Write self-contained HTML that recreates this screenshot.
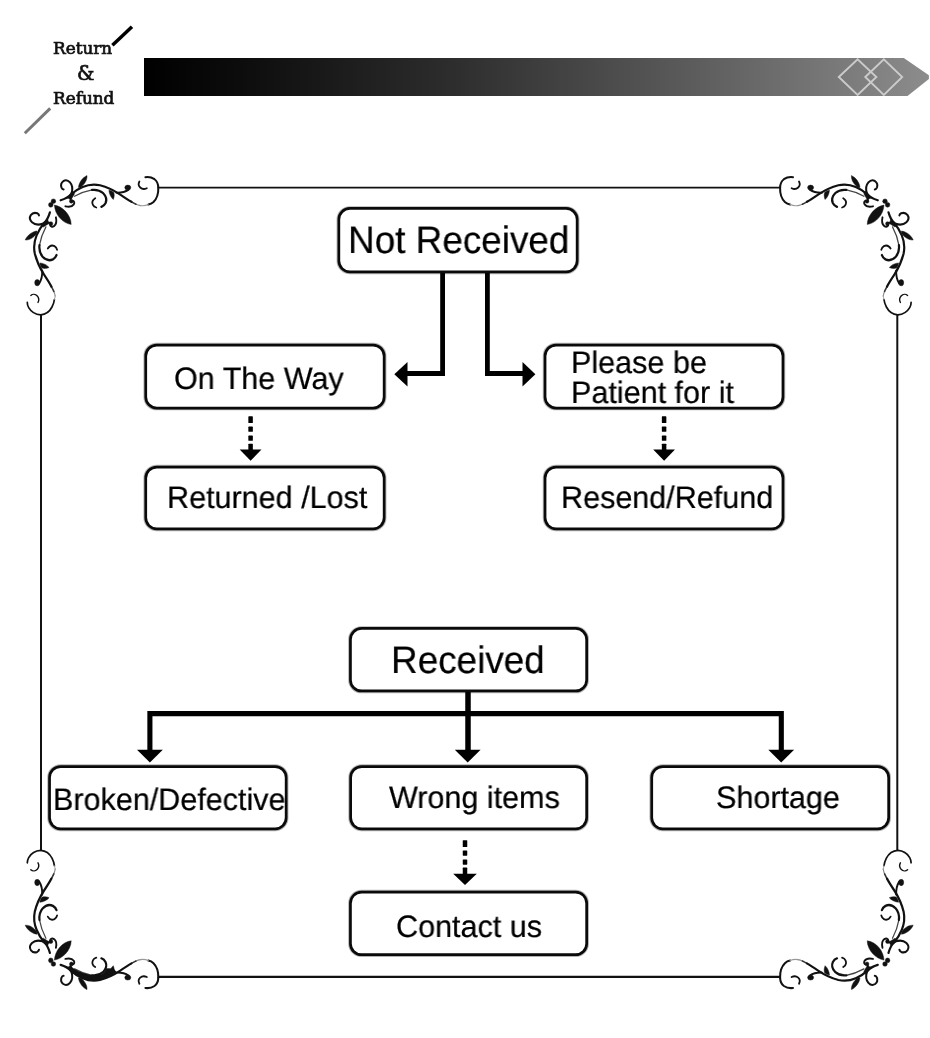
<!DOCTYPE html>
<html lang="en"><head><meta charset="utf-8"><title>Return &amp; Refund</title>
<style>
html,body{margin:0;padding:0;background:#fff}
body{width:930px;height:1038px;position:relative;overflow:hidden;font-family:"Liberation Sans",sans-serif;color:#000}
.t{position:absolute;white-space:nowrap;line-height:1;color:#000;transform-origin:0 50%;will-change:transform;text-rendering:geometricPrecision;-webkit-text-stroke:0.22px #000}
.t.big{font-size:38.3px;transform:scaleX(0.963)}
.t.n{font-size:31px;transform:scaleX(0.985)}
.logo{position:absolute;font-family:"DejaVu Serif","Liberation Serif",serif;font-size:16.85px;line-height:1;white-space:nowrap;color:#111;-webkit-text-stroke:0.7px #111;will-change:transform}
</style></head>
<body>
<svg width="930" height="1038" viewBox="0 0 930 1038" style="position:absolute;left:0;top:0">
<defs><linearGradient id="barg" x1="0" x2="1" y1="0" y2="0">
<stop offset="0" stop-color="#000"/><stop offset="0.12" stop-color="#0c0c0c"/><stop offset="0.4" stop-color="#2e2e2e"/><stop offset="0.7" stop-color="#5c5c5c"/><stop offset="1" stop-color="#8c8c8c"/></linearGradient></defs>
<polygon points="144,58 903.8,58 928.9,75.2 928.9,79 907.5,96 144,96" fill="url(#barg)"/>
<polygon points="838.8,77 857.6,59.2 876.4,77 857.6,95" fill="none" stroke="#cbcbcb" stroke-width="1.9"/>
<polygon points="865.3,77 883.8,59.2 902.2,77 883.8,95" fill="none" stroke="#cbcbcb" stroke-width="1.9"/>
<line x1="112.4" y1="45.2" x2="132" y2="26.8" stroke="#000" stroke-width="3.5"/>
<line x1="24.8" y1="133.2" x2="50.2" y2="108.4" stroke="#777" stroke-width="3"/>

<line x1="158.1" y1="187.7" x2="780.3" y2="187.7" stroke="#111" stroke-width="1.8"/>
<line x1="158.1" y1="976.9" x2="780.3" y2="976.9" stroke="#111" stroke-width="2.3"/>
<line x1="41" y1="314.6" x2="41" y2="850.6" stroke="#111" stroke-width="2"/>
<line x1="897.3" y1="314.6" x2="897.3" y2="850.6" stroke="#111" stroke-width="2"/>

<g><g>
<path d="M140.5,205.6 C139,205.3 137.6,204.9 136,204.2" fill="none" stroke="#888" stroke-width="1.12" stroke-linecap="round"/>
<path d="M136,204.2 C134.5,203.5 133,202.7 131.5,201.8" fill="none" stroke="#333" stroke-width="1.57" stroke-linecap="round"/>
<path d="M131.5,201.8 C127.7,199.7 123.8,197 119.9,194.3 C114,190.4 107,187 100,185.2 C94,183.9 88,184.6 82.6,187 C78,189 74,191.6 71.2,194.3 C69,196.6 66,198.7 60.6,200.3" fill="none" stroke="#111" stroke-width="2.18" stroke-linecap="round"/>
<path d="M74.5,196.3 C80,193.2 86,191 92,189.9" fill="none" stroke="#444" stroke-width="1.23" stroke-linecap="round"/>
<path d="M92,189.9 C96,189.4 100,190.3 103,193 C106,196 107,200 105.5,203.3 C104.5,205.2 103,206.3 101.4,206.9" fill="none" stroke="#111" stroke-width="2.24" stroke-linecap="round"/>
<path d="M95.2,198.2 C92.6,199.8 91.8,202.6 92.9,204.9 C93.6,206.3 94.8,207.1 96.3,207.5" fill="none" stroke="#111" stroke-width="1.79" stroke-linecap="round"/>
<path d="M116.3,192.6 C120.5,192.8 125,192 128.6,189.6" fill="none" stroke="#111" stroke-width="1.90" stroke-linecap="round"/>
<ellipse cx="127.8" cy="187.6" rx="3" ry="2.5" fill="#111" stroke="#111" stroke-width="0.45" stroke-linejoin="round"/>
<path d="M108.9,190.2 C110.5,190.4 112.6,191.2 113.8,192.4 C114.6,194.6 114.2,197.4 113.3,199.5 C111,197.6 109.2,194 108.9,190.2 Z" fill="#111" stroke="#111" stroke-width="0.45" stroke-linejoin="round"/>
<path d="M78.4,187.4 C79,182.5 82.5,177.6 87,175.6 C87.3,180 84.5,184.6 80.6,187.2 Z" fill="#111" stroke="#111" stroke-width="0.45" stroke-linejoin="round"/>
<path d="M71.6,193 C72.8,189 72.3,185 70,182.4 C68,180.2 65.2,179.9 63.3,181.2 C61.3,182.7 60.7,185.4 61.5,187.6 C62,188.7 62.8,189.3 63.6,189.4" fill="none" stroke="#111" stroke-width="2.02" stroke-linecap="round"/>
<path d="M67,197.9 L72.4,190.8 L74.6,193.8 L71.2,199.4 Z" fill="#111" stroke="#111" stroke-width="0.45" stroke-linejoin="round"/>
<path d="M70.6,197.8 C70.3,199.2 70.5,200.4 71.2,201.4" fill="none" stroke="#111" stroke-width="1.79"/>
<circle cx="71.4" cy="201.3" r="1.9" fill="#111" stroke="#111" stroke-width="0.45" stroke-linejoin="round"/>
<path d="M72.6,200.6 C74.2,201 74.8,202.6 73.8,204.4 C72.4,206.4 69,207.2 65.4,206.3" fill="none" stroke="#111" stroke-width="1.90" stroke-linecap="round"/>
<circle cx="53.4" cy="201.2" r="2.3" fill="#111" stroke="#111" stroke-width="0.45" stroke-linejoin="round"/>

<path d="M158.3,187.6 C158.2,184 157,181 154.5,179.2 C152,177.5 148.5,176.8 145.4,177.2" fill="none" stroke="#111" stroke-width="2.02" stroke-linecap="round"/>
<path d="M139.4,181.5 C138.3,183.5 138.6,186 140.2,187.5 C141.8,189 144.5,189.3 146.8,188.2" fill="none" stroke="#111" stroke-width="1.79" stroke-linecap="round"/>
<path d="M158.3,187.6 C158.5,193 157,198.5 153.5,202 C151.8,203.6 150,204.3 148.3,204.6" fill="none" stroke="#111" stroke-width="2.02" stroke-linecap="round"/>
<path d="M148.3,204.6 C146,205.6 143,206 140.5,205.6" fill="none" stroke="#999" stroke-width="1.12" stroke-linecap="round"/>
<path d="M54.4,205.1 C62,206.2 71,214.5 71.2,224.4 C62,223.4 54.8,214 54.4,205.1 Z" fill="#111" stroke="#111" stroke-width="0.45" stroke-linejoin="round"/><g transform="matrix(0,1.047,1,0,-150.4,148.9)">
<path d="M140.5,205.6 C139,205.3 137.6,204.9 136,204.2" fill="none" stroke="#888" stroke-width="1.12" stroke-linecap="round"/>
<path d="M136,204.2 C134.5,203.5 133,202.7 131.5,201.8" fill="none" stroke="#333" stroke-width="1.57" stroke-linecap="round"/>
<path d="M131.5,201.8 C127.7,199.7 123.8,197 119.9,194.3 C114,190.4 107,187 100,185.2 C94,183.9 88,184.6 82.6,187 C78,189 74,191.6 71.2,194.3 C69,196.6 66,198.7 60.6,200.3" fill="none" stroke="#111" stroke-width="2.18" stroke-linecap="round"/>
<path d="M74.5,196.3 C80,193.2 86,191 92,189.9" fill="none" stroke="#444" stroke-width="1.23" stroke-linecap="round"/>
<path d="M92,189.9 C96,189.4 100,190.3 103,193 C106,196 107,200 105.5,203.3 C104.5,205.2 103,206.3 101.4,206.9" fill="none" stroke="#111" stroke-width="2.24" stroke-linecap="round"/>
<path d="M95.2,198.2 C92.6,199.8 91.8,202.6 92.9,204.9 C93.6,206.3 94.8,207.1 96.3,207.5" fill="none" stroke="#111" stroke-width="1.79" stroke-linecap="round"/>
<path d="M116.3,192.6 C120.5,192.8 125,192 128.6,189.6" fill="none" stroke="#111" stroke-width="1.90" stroke-linecap="round"/>
<ellipse cx="127.8" cy="187.6" rx="3" ry="2.5" fill="#111" stroke="#111" stroke-width="0.45" stroke-linejoin="round"/>
<path d="M108.9,190.2 C110.5,190.4 112.6,191.2 113.8,192.4 C114.6,194.6 114.2,197.4 113.3,199.5 C111,197.6 109.2,194 108.9,190.2 Z" fill="#111" stroke="#111" stroke-width="0.45" stroke-linejoin="round"/>
<path d="M78.4,187.4 C79,182.5 82.5,177.6 87,175.6 C87.3,180 84.5,184.6 80.6,187.2 Z" fill="#111" stroke="#111" stroke-width="0.45" stroke-linejoin="round"/>
<path d="M71.6,193 C72.8,189 72.3,185 70,182.4 C68,180.2 65.2,179.9 63.3,181.2 C61.3,182.7 60.7,185.4 61.5,187.6 C62,188.7 62.8,189.3 63.6,189.4" fill="none" stroke="#111" stroke-width="2.02" stroke-linecap="round"/>
<path d="M67,197.9 L72.4,190.8 L74.6,193.8 L71.2,199.4 Z" fill="#111" stroke="#111" stroke-width="0.45" stroke-linejoin="round"/>
<path d="M70.6,197.8 C70.3,199.2 70.5,200.4 71.2,201.4" fill="none" stroke="#111" stroke-width="1.79"/>
<circle cx="71.4" cy="201.3" r="1.9" fill="#111" stroke="#111" stroke-width="0.45" stroke-linejoin="round"/>
<path d="M72.6,200.6 C74.2,201 74.8,202.6 73.8,204.4 C72.4,206.4 69,207.2 65.4,206.3" fill="none" stroke="#111" stroke-width="1.90" stroke-linecap="round"/>
<circle cx="53.4" cy="201.2" r="2.3" fill="#111" stroke="#111" stroke-width="0.45" stroke-linejoin="round"/>
</g>
<path d="M40.7,314.8 C36,314.5 31,311.6 28.7,307.6 C27.7,305.8 27.2,304 27.3,302.4" fill="none" stroke="#111" stroke-width="1.7" stroke-linecap="round"/>
<path d="M30.8,295.4 C32.6,293.8 35.5,294 37.3,296 C38.8,297.8 39.2,300.3 38,302.4" fill="none" stroke="#111" stroke-width="1.4" stroke-linecap="round"/>
<path d="M40.7,314.8 C45,314.5 49.6,311.6 52,307 C53.4,304.2 54.2,301.6 54.4,299.5" fill="none" stroke="#111" stroke-width="1.7" stroke-linecap="round"/>
<path d="M54.4,299.5 C54.8,298 55.1,297 55.2,296" fill="none" stroke="#999" stroke-width="1" stroke-linecap="round"/>
</g></g>
<g transform="matrix(-1,0,0,1,938.4,0)"><g>
<path d="M140.5,205.6 C139,205.3 137.6,204.9 136,204.2" fill="none" stroke="#888" stroke-width="1.12" stroke-linecap="round"/>
<path d="M136,204.2 C134.5,203.5 133,202.7 131.5,201.8" fill="none" stroke="#333" stroke-width="1.57" stroke-linecap="round"/>
<path d="M131.5,201.8 C127.7,199.7 123.8,197 119.9,194.3 C114,190.4 107,187 100,185.2 C94,183.9 88,184.6 82.6,187 C78,189 74,191.6 71.2,194.3 C69,196.6 66,198.7 60.6,200.3" fill="none" stroke="#111" stroke-width="2.18" stroke-linecap="round"/>
<path d="M74.5,196.3 C80,193.2 86,191 92,189.9" fill="none" stroke="#444" stroke-width="1.23" stroke-linecap="round"/>
<path d="M92,189.9 C96,189.4 100,190.3 103,193 C106,196 107,200 105.5,203.3 C104.5,205.2 103,206.3 101.4,206.9" fill="none" stroke="#111" stroke-width="2.24" stroke-linecap="round"/>
<path d="M95.2,198.2 C92.6,199.8 91.8,202.6 92.9,204.9 C93.6,206.3 94.8,207.1 96.3,207.5" fill="none" stroke="#111" stroke-width="1.79" stroke-linecap="round"/>
<path d="M116.3,192.6 C120.5,192.8 125,192 128.6,189.6" fill="none" stroke="#111" stroke-width="1.90" stroke-linecap="round"/>
<ellipse cx="127.8" cy="187.6" rx="3" ry="2.5" fill="#111" stroke="#111" stroke-width="0.45" stroke-linejoin="round"/>
<path d="M108.9,190.2 C110.5,190.4 112.6,191.2 113.8,192.4 C114.6,194.6 114.2,197.4 113.3,199.5 C111,197.6 109.2,194 108.9,190.2 Z" fill="#111" stroke="#111" stroke-width="0.45" stroke-linejoin="round"/>
<path d="M78.4,187.4 C79,182.5 82.5,177.6 87,175.6 C87.3,180 84.5,184.6 80.6,187.2 Z" fill="#111" stroke="#111" stroke-width="0.45" stroke-linejoin="round"/>
<path d="M71.6,193 C72.8,189 72.3,185 70,182.4 C68,180.2 65.2,179.9 63.3,181.2 C61.3,182.7 60.7,185.4 61.5,187.6 C62,188.7 62.8,189.3 63.6,189.4" fill="none" stroke="#111" stroke-width="2.02" stroke-linecap="round"/>
<path d="M67,197.9 L72.4,190.8 L74.6,193.8 L71.2,199.4 Z" fill="#111" stroke="#111" stroke-width="0.45" stroke-linejoin="round"/>
<path d="M70.6,197.8 C70.3,199.2 70.5,200.4 71.2,201.4" fill="none" stroke="#111" stroke-width="1.79"/>
<circle cx="71.4" cy="201.3" r="1.9" fill="#111" stroke="#111" stroke-width="0.45" stroke-linejoin="round"/>
<path d="M72.6,200.6 C74.2,201 74.8,202.6 73.8,204.4 C72.4,206.4 69,207.2 65.4,206.3" fill="none" stroke="#111" stroke-width="1.90" stroke-linecap="round"/>
<circle cx="53.4" cy="201.2" r="2.3" fill="#111" stroke="#111" stroke-width="0.45" stroke-linejoin="round"/>

<path d="M158.3,187.6 C158.2,184 157,181 154.5,179.2 C152,177.5 148.5,176.8 145.4,177.2" fill="none" stroke="#111" stroke-width="2.02" stroke-linecap="round"/>
<path d="M139.4,181.5 C138.3,183.5 138.6,186 140.2,187.5 C141.8,189 144.5,189.3 146.8,188.2" fill="none" stroke="#111" stroke-width="1.79" stroke-linecap="round"/>
<path d="M158.3,187.6 C158.5,193 157,198.5 153.5,202 C151.8,203.6 150,204.3 148.3,204.6" fill="none" stroke="#111" stroke-width="2.02" stroke-linecap="round"/>
<path d="M148.3,204.6 C146,205.6 143,206 140.5,205.6" fill="none" stroke="#999" stroke-width="1.12" stroke-linecap="round"/>
<path d="M54.4,205.1 C62,206.2 71,214.5 71.2,224.4 C62,223.4 54.8,214 54.4,205.1 Z" fill="#111" stroke="#111" stroke-width="0.45" stroke-linejoin="round"/><g transform="matrix(0,1.047,1,0,-150.4,148.9)">
<path d="M140.5,205.6 C139,205.3 137.6,204.9 136,204.2" fill="none" stroke="#888" stroke-width="1.12" stroke-linecap="round"/>
<path d="M136,204.2 C134.5,203.5 133,202.7 131.5,201.8" fill="none" stroke="#333" stroke-width="1.57" stroke-linecap="round"/>
<path d="M131.5,201.8 C127.7,199.7 123.8,197 119.9,194.3 C114,190.4 107,187 100,185.2 C94,183.9 88,184.6 82.6,187 C78,189 74,191.6 71.2,194.3 C69,196.6 66,198.7 60.6,200.3" fill="none" stroke="#111" stroke-width="2.18" stroke-linecap="round"/>
<path d="M74.5,196.3 C80,193.2 86,191 92,189.9" fill="none" stroke="#444" stroke-width="1.23" stroke-linecap="round"/>
<path d="M92,189.9 C96,189.4 100,190.3 103,193 C106,196 107,200 105.5,203.3 C104.5,205.2 103,206.3 101.4,206.9" fill="none" stroke="#111" stroke-width="2.24" stroke-linecap="round"/>
<path d="M95.2,198.2 C92.6,199.8 91.8,202.6 92.9,204.9 C93.6,206.3 94.8,207.1 96.3,207.5" fill="none" stroke="#111" stroke-width="1.79" stroke-linecap="round"/>
<path d="M116.3,192.6 C120.5,192.8 125,192 128.6,189.6" fill="none" stroke="#111" stroke-width="1.90" stroke-linecap="round"/>
<ellipse cx="127.8" cy="187.6" rx="3" ry="2.5" fill="#111" stroke="#111" stroke-width="0.45" stroke-linejoin="round"/>
<path d="M108.9,190.2 C110.5,190.4 112.6,191.2 113.8,192.4 C114.6,194.6 114.2,197.4 113.3,199.5 C111,197.6 109.2,194 108.9,190.2 Z" fill="#111" stroke="#111" stroke-width="0.45" stroke-linejoin="round"/>
<path d="M78.4,187.4 C79,182.5 82.5,177.6 87,175.6 C87.3,180 84.5,184.6 80.6,187.2 Z" fill="#111" stroke="#111" stroke-width="0.45" stroke-linejoin="round"/>
<path d="M71.6,193 C72.8,189 72.3,185 70,182.4 C68,180.2 65.2,179.9 63.3,181.2 C61.3,182.7 60.7,185.4 61.5,187.6 C62,188.7 62.8,189.3 63.6,189.4" fill="none" stroke="#111" stroke-width="2.02" stroke-linecap="round"/>
<path d="M67,197.9 L72.4,190.8 L74.6,193.8 L71.2,199.4 Z" fill="#111" stroke="#111" stroke-width="0.45" stroke-linejoin="round"/>
<path d="M70.6,197.8 C70.3,199.2 70.5,200.4 71.2,201.4" fill="none" stroke="#111" stroke-width="1.79"/>
<circle cx="71.4" cy="201.3" r="1.9" fill="#111" stroke="#111" stroke-width="0.45" stroke-linejoin="round"/>
<path d="M72.6,200.6 C74.2,201 74.8,202.6 73.8,204.4 C72.4,206.4 69,207.2 65.4,206.3" fill="none" stroke="#111" stroke-width="1.90" stroke-linecap="round"/>
<circle cx="53.4" cy="201.2" r="2.3" fill="#111" stroke="#111" stroke-width="0.45" stroke-linejoin="round"/>
</g>
<path d="M40.7,314.8 C36,314.5 31,311.6 28.7,307.6 C27.7,305.8 27.2,304 27.3,302.4" fill="none" stroke="#111" stroke-width="1.7" stroke-linecap="round"/>
<path d="M30.8,295.4 C32.6,293.8 35.5,294 37.3,296 C38.8,297.8 39.2,300.3 38,302.4" fill="none" stroke="#111" stroke-width="1.4" stroke-linecap="round"/>
<path d="M40.7,314.8 C45,314.5 49.6,311.6 52,307 C53.4,304.2 54.2,301.6 54.4,299.5" fill="none" stroke="#111" stroke-width="1.7" stroke-linecap="round"/>
<path d="M54.4,299.5 C54.8,298 55.1,297 55.2,296" fill="none" stroke="#999" stroke-width="1" stroke-linecap="round"/>
</g></g>
<g transform="matrix(1,0,0,-1,0,1165.2)"><g>
<path d="M140.5,205.6 C139,205.3 137.6,204.9 136,204.2" fill="none" stroke="#888" stroke-width="1.12" stroke-linecap="round"/>
<path d="M136,204.2 C134.5,203.5 133,202.7 131.5,201.8" fill="none" stroke="#333" stroke-width="1.57" stroke-linecap="round"/>
<path d="M131.5,201.8 C127.7,199.7 123.8,197 119.9,194.3 C114,190.4 107,187 100,185.2 C94,183.9 88,184.6 82.6,187 C78,189 74,191.6 71.2,194.3 C69,196.6 66,198.7 60.6,200.3" fill="none" stroke="#111" stroke-width="2.18" stroke-linecap="round"/>
<path d="M74.5,196.3 C80,193.2 86,191 92,189.9" fill="none" stroke="#444" stroke-width="1.23" stroke-linecap="round"/>
<path d="M92,189.9 C96,189.4 100,190.3 103,193 C106,196 107,200 105.5,203.3 C104.5,205.2 103,206.3 101.4,206.9" fill="none" stroke="#111" stroke-width="2.24" stroke-linecap="round"/>
<path d="M95.2,198.2 C92.6,199.8 91.8,202.6 92.9,204.9 C93.6,206.3 94.8,207.1 96.3,207.5" fill="none" stroke="#111" stroke-width="1.79" stroke-linecap="round"/>
<path d="M116.3,192.6 C120.5,192.8 125,192 128.6,189.6" fill="none" stroke="#111" stroke-width="1.90" stroke-linecap="round"/>
<ellipse cx="127.8" cy="187.6" rx="3" ry="2.5" fill="#111" stroke="#111" stroke-width="0.45" stroke-linejoin="round"/>
<path d="M108.9,190.2 C110.5,190.4 112.6,191.2 113.8,192.4 C114.6,194.6 114.2,197.4 113.3,199.5 C111,197.6 109.2,194 108.9,190.2 Z" fill="#111" stroke="#111" stroke-width="0.45" stroke-linejoin="round"/>
<path d="M78.4,187.4 C79,182.5 82.5,177.6 87,175.6 C87.3,180 84.5,184.6 80.6,187.2 Z" fill="#111" stroke="#111" stroke-width="0.45" stroke-linejoin="round"/>
<path d="M71.6,193 C72.8,189 72.3,185 70,182.4 C68,180.2 65.2,179.9 63.3,181.2 C61.3,182.7 60.7,185.4 61.5,187.6 C62,188.7 62.8,189.3 63.6,189.4" fill="none" stroke="#111" stroke-width="2.02" stroke-linecap="round"/>
<path d="M67,197.9 L72.4,190.8 L74.6,193.8 L71.2,199.4 Z" fill="#111" stroke="#111" stroke-width="0.45" stroke-linejoin="round"/>
<path d="M70.6,197.8 C70.3,199.2 70.5,200.4 71.2,201.4" fill="none" stroke="#111" stroke-width="1.79"/>
<circle cx="71.4" cy="201.3" r="1.9" fill="#111" stroke="#111" stroke-width="0.45" stroke-linejoin="round"/>
<path d="M72.6,200.6 C74.2,201 74.8,202.6 73.8,204.4 C72.4,206.4 69,207.2 65.4,206.3" fill="none" stroke="#111" stroke-width="1.90" stroke-linecap="round"/>
<circle cx="53.4" cy="201.2" r="2.3" fill="#111" stroke="#111" stroke-width="0.45" stroke-linejoin="round"/>

<path d="M158.3,187.6 C158.2,184 157,181 154.5,179.2 C152,177.5 148.5,176.8 145.4,177.2" fill="none" stroke="#111" stroke-width="2.02" stroke-linecap="round"/>
<path d="M139.4,181.5 C138.3,183.5 138.6,186 140.2,187.5 C141.8,189 144.5,189.3 146.8,188.2" fill="none" stroke="#111" stroke-width="1.79" stroke-linecap="round"/>
<path d="M158.3,187.6 C158.5,193 157,198.5 153.5,202 C151.8,203.6 150,204.3 148.3,204.6" fill="none" stroke="#111" stroke-width="2.02" stroke-linecap="round"/>
<path d="M148.3,204.6 C146,205.6 143,206 140.5,205.6" fill="none" stroke="#999" stroke-width="1.12" stroke-linecap="round"/>
<path d="M54.4,205.1 C62,206.2 71,214.5 71.2,224.4 C62,223.4 54.8,214 54.4,205.1 Z" fill="#111" stroke="#111" stroke-width="0.45" stroke-linejoin="round"/><g transform="matrix(0,1.047,1,0,-150.4,148.9)">
<path d="M140.5,205.6 C139,205.3 137.6,204.9 136,204.2" fill="none" stroke="#888" stroke-width="1.12" stroke-linecap="round"/>
<path d="M136,204.2 C134.5,203.5 133,202.7 131.5,201.8" fill="none" stroke="#333" stroke-width="1.57" stroke-linecap="round"/>
<path d="M131.5,201.8 C127.7,199.7 123.8,197 119.9,194.3 C114,190.4 107,187 100,185.2 C94,183.9 88,184.6 82.6,187 C78,189 74,191.6 71.2,194.3 C69,196.6 66,198.7 60.6,200.3" fill="none" stroke="#111" stroke-width="2.18" stroke-linecap="round"/>
<path d="M74.5,196.3 C80,193.2 86,191 92,189.9" fill="none" stroke="#444" stroke-width="1.23" stroke-linecap="round"/>
<path d="M92,189.9 C96,189.4 100,190.3 103,193 C106,196 107,200 105.5,203.3 C104.5,205.2 103,206.3 101.4,206.9" fill="none" stroke="#111" stroke-width="2.24" stroke-linecap="round"/>
<path d="M95.2,198.2 C92.6,199.8 91.8,202.6 92.9,204.9 C93.6,206.3 94.8,207.1 96.3,207.5" fill="none" stroke="#111" stroke-width="1.79" stroke-linecap="round"/>
<path d="M116.3,192.6 C120.5,192.8 125,192 128.6,189.6" fill="none" stroke="#111" stroke-width="1.90" stroke-linecap="round"/>
<ellipse cx="127.8" cy="187.6" rx="3" ry="2.5" fill="#111" stroke="#111" stroke-width="0.45" stroke-linejoin="round"/>
<path d="M108.9,190.2 C110.5,190.4 112.6,191.2 113.8,192.4 C114.6,194.6 114.2,197.4 113.3,199.5 C111,197.6 109.2,194 108.9,190.2 Z" fill="#111" stroke="#111" stroke-width="0.45" stroke-linejoin="round"/>
<path d="M78.4,187.4 C79,182.5 82.5,177.6 87,175.6 C87.3,180 84.5,184.6 80.6,187.2 Z" fill="#111" stroke="#111" stroke-width="0.45" stroke-linejoin="round"/>
<path d="M71.6,193 C72.8,189 72.3,185 70,182.4 C68,180.2 65.2,179.9 63.3,181.2 C61.3,182.7 60.7,185.4 61.5,187.6 C62,188.7 62.8,189.3 63.6,189.4" fill="none" stroke="#111" stroke-width="2.02" stroke-linecap="round"/>
<path d="M67,197.9 L72.4,190.8 L74.6,193.8 L71.2,199.4 Z" fill="#111" stroke="#111" stroke-width="0.45" stroke-linejoin="round"/>
<path d="M70.6,197.8 C70.3,199.2 70.5,200.4 71.2,201.4" fill="none" stroke="#111" stroke-width="1.79"/>
<circle cx="71.4" cy="201.3" r="1.9" fill="#111" stroke="#111" stroke-width="0.45" stroke-linejoin="round"/>
<path d="M72.6,200.6 C74.2,201 74.8,202.6 73.8,204.4 C72.4,206.4 69,207.2 65.4,206.3" fill="none" stroke="#111" stroke-width="1.90" stroke-linecap="round"/>
<circle cx="53.4" cy="201.2" r="2.3" fill="#111" stroke="#111" stroke-width="0.45" stroke-linejoin="round"/>
</g>
<path d="M40.7,314.8 C36,314.5 31,311.6 28.7,307.6 C27.7,305.8 27.2,304 27.3,302.4" fill="none" stroke="#111" stroke-width="1.7" stroke-linecap="round"/>
<path d="M30.8,295.4 C32.6,293.8 35.5,294 37.3,296 C38.8,297.8 39.2,300.3 38,302.4" fill="none" stroke="#111" stroke-width="1.4" stroke-linecap="round"/>
<path d="M40.7,314.8 C45,314.5 49.6,311.6 52,307 C53.4,304.2 54.2,301.6 54.4,299.5" fill="none" stroke="#111" stroke-width="1.7" stroke-linecap="round"/>
<path d="M54.4,299.5 C54.8,298 55.1,297 55.2,296" fill="none" stroke="#999" stroke-width="1" stroke-linecap="round"/>
<path d="M67.6,197.8 C69.5,196 71,194.5 72.5,193 C75,190.8 78.5,188.6 82.6,187 C88,184.6 94,183.9 100,185.2 C106,186.8 111.5,189.4 117,192.6 L113.6,196.6 L106.3,197 C105.6,194.6 104.2,192.6 102,191.2 C99,189.6 95.5,189.5 92,189.9 C86,191 80,193.2 74.5,196.3 C72.5,197.6 70.5,198.4 67.6,197.8 Z" fill="#111"/></g></g>
<g transform="matrix(-1,0,0,-1,938.4,1165.2)"><g>
<path d="M140.5,205.6 C139,205.3 137.6,204.9 136,204.2" fill="none" stroke="#888" stroke-width="1.12" stroke-linecap="round"/>
<path d="M136,204.2 C134.5,203.5 133,202.7 131.5,201.8" fill="none" stroke="#333" stroke-width="1.57" stroke-linecap="round"/>
<path d="M131.5,201.8 C127.7,199.7 123.8,197 119.9,194.3 C114,190.4 107,187 100,185.2 C94,183.9 88,184.6 82.6,187 C78,189 74,191.6 71.2,194.3 C69,196.6 66,198.7 60.6,200.3" fill="none" stroke="#111" stroke-width="2.18" stroke-linecap="round"/>
<path d="M74.5,196.3 C80,193.2 86,191 92,189.9" fill="none" stroke="#444" stroke-width="1.23" stroke-linecap="round"/>
<path d="M92,189.9 C96,189.4 100,190.3 103,193 C106,196 107,200 105.5,203.3 C104.5,205.2 103,206.3 101.4,206.9" fill="none" stroke="#111" stroke-width="2.24" stroke-linecap="round"/>
<path d="M95.2,198.2 C92.6,199.8 91.8,202.6 92.9,204.9 C93.6,206.3 94.8,207.1 96.3,207.5" fill="none" stroke="#111" stroke-width="1.79" stroke-linecap="round"/>
<path d="M116.3,192.6 C120.5,192.8 125,192 128.6,189.6" fill="none" stroke="#111" stroke-width="1.90" stroke-linecap="round"/>
<ellipse cx="127.8" cy="187.6" rx="3" ry="2.5" fill="#111" stroke="#111" stroke-width="0.45" stroke-linejoin="round"/>
<path d="M108.9,190.2 C110.5,190.4 112.6,191.2 113.8,192.4 C114.6,194.6 114.2,197.4 113.3,199.5 C111,197.6 109.2,194 108.9,190.2 Z" fill="#111" stroke="#111" stroke-width="0.45" stroke-linejoin="round"/>
<path d="M78.4,187.4 C79,182.5 82.5,177.6 87,175.6 C87.3,180 84.5,184.6 80.6,187.2 Z" fill="#111" stroke="#111" stroke-width="0.45" stroke-linejoin="round"/>
<path d="M71.6,193 C72.8,189 72.3,185 70,182.4 C68,180.2 65.2,179.9 63.3,181.2 C61.3,182.7 60.7,185.4 61.5,187.6 C62,188.7 62.8,189.3 63.6,189.4" fill="none" stroke="#111" stroke-width="2.02" stroke-linecap="round"/>
<path d="M67,197.9 L72.4,190.8 L74.6,193.8 L71.2,199.4 Z" fill="#111" stroke="#111" stroke-width="0.45" stroke-linejoin="round"/>
<path d="M70.6,197.8 C70.3,199.2 70.5,200.4 71.2,201.4" fill="none" stroke="#111" stroke-width="1.79"/>
<circle cx="71.4" cy="201.3" r="1.9" fill="#111" stroke="#111" stroke-width="0.45" stroke-linejoin="round"/>
<path d="M72.6,200.6 C74.2,201 74.8,202.6 73.8,204.4 C72.4,206.4 69,207.2 65.4,206.3" fill="none" stroke="#111" stroke-width="1.90" stroke-linecap="round"/>
<circle cx="53.4" cy="201.2" r="2.3" fill="#111" stroke="#111" stroke-width="0.45" stroke-linejoin="round"/>

<path d="M158.3,187.6 C158.2,184 157,181 154.5,179.2 C152,177.5 148.5,176.8 145.4,177.2" fill="none" stroke="#111" stroke-width="2.02" stroke-linecap="round"/>
<path d="M139.4,181.5 C138.3,183.5 138.6,186 140.2,187.5 C141.8,189 144.5,189.3 146.8,188.2" fill="none" stroke="#111" stroke-width="1.79" stroke-linecap="round"/>
<path d="M158.3,187.6 C158.5,193 157,198.5 153.5,202 C151.8,203.6 150,204.3 148.3,204.6" fill="none" stroke="#111" stroke-width="2.02" stroke-linecap="round"/>
<path d="M148.3,204.6 C146,205.6 143,206 140.5,205.6" fill="none" stroke="#999" stroke-width="1.12" stroke-linecap="round"/>
<path d="M54.4,205.1 C62,206.2 71,214.5 71.2,224.4 C62,223.4 54.8,214 54.4,205.1 Z" fill="#111" stroke="#111" stroke-width="0.45" stroke-linejoin="round"/><g transform="matrix(0,1.047,1,0,-150.4,148.9)">
<path d="M140.5,205.6 C139,205.3 137.6,204.9 136,204.2" fill="none" stroke="#888" stroke-width="1.12" stroke-linecap="round"/>
<path d="M136,204.2 C134.5,203.5 133,202.7 131.5,201.8" fill="none" stroke="#333" stroke-width="1.57" stroke-linecap="round"/>
<path d="M131.5,201.8 C127.7,199.7 123.8,197 119.9,194.3 C114,190.4 107,187 100,185.2 C94,183.9 88,184.6 82.6,187 C78,189 74,191.6 71.2,194.3 C69,196.6 66,198.7 60.6,200.3" fill="none" stroke="#111" stroke-width="2.18" stroke-linecap="round"/>
<path d="M74.5,196.3 C80,193.2 86,191 92,189.9" fill="none" stroke="#444" stroke-width="1.23" stroke-linecap="round"/>
<path d="M92,189.9 C96,189.4 100,190.3 103,193 C106,196 107,200 105.5,203.3 C104.5,205.2 103,206.3 101.4,206.9" fill="none" stroke="#111" stroke-width="2.24" stroke-linecap="round"/>
<path d="M95.2,198.2 C92.6,199.8 91.8,202.6 92.9,204.9 C93.6,206.3 94.8,207.1 96.3,207.5" fill="none" stroke="#111" stroke-width="1.79" stroke-linecap="round"/>
<path d="M116.3,192.6 C120.5,192.8 125,192 128.6,189.6" fill="none" stroke="#111" stroke-width="1.90" stroke-linecap="round"/>
<ellipse cx="127.8" cy="187.6" rx="3" ry="2.5" fill="#111" stroke="#111" stroke-width="0.45" stroke-linejoin="round"/>
<path d="M108.9,190.2 C110.5,190.4 112.6,191.2 113.8,192.4 C114.6,194.6 114.2,197.4 113.3,199.5 C111,197.6 109.2,194 108.9,190.2 Z" fill="#111" stroke="#111" stroke-width="0.45" stroke-linejoin="round"/>
<path d="M78.4,187.4 C79,182.5 82.5,177.6 87,175.6 C87.3,180 84.5,184.6 80.6,187.2 Z" fill="#111" stroke="#111" stroke-width="0.45" stroke-linejoin="round"/>
<path d="M71.6,193 C72.8,189 72.3,185 70,182.4 C68,180.2 65.2,179.9 63.3,181.2 C61.3,182.7 60.7,185.4 61.5,187.6 C62,188.7 62.8,189.3 63.6,189.4" fill="none" stroke="#111" stroke-width="2.02" stroke-linecap="round"/>
<path d="M67,197.9 L72.4,190.8 L74.6,193.8 L71.2,199.4 Z" fill="#111" stroke="#111" stroke-width="0.45" stroke-linejoin="round"/>
<path d="M70.6,197.8 C70.3,199.2 70.5,200.4 71.2,201.4" fill="none" stroke="#111" stroke-width="1.79"/>
<circle cx="71.4" cy="201.3" r="1.9" fill="#111" stroke="#111" stroke-width="0.45" stroke-linejoin="round"/>
<path d="M72.6,200.6 C74.2,201 74.8,202.6 73.8,204.4 C72.4,206.4 69,207.2 65.4,206.3" fill="none" stroke="#111" stroke-width="1.90" stroke-linecap="round"/>
<circle cx="53.4" cy="201.2" r="2.3" fill="#111" stroke="#111" stroke-width="0.45" stroke-linejoin="round"/>
</g>
<path d="M40.7,314.8 C36,314.5 31,311.6 28.7,307.6 C27.7,305.8 27.2,304 27.3,302.4" fill="none" stroke="#111" stroke-width="1.7" stroke-linecap="round"/>
<path d="M30.8,295.4 C32.6,293.8 35.5,294 37.3,296 C38.8,297.8 39.2,300.3 38,302.4" fill="none" stroke="#111" stroke-width="1.4" stroke-linecap="round"/>
<path d="M40.7,314.8 C45,314.5 49.6,311.6 52,307 C53.4,304.2 54.2,301.6 54.4,299.5" fill="none" stroke="#111" stroke-width="1.7" stroke-linecap="round"/>
<path d="M54.4,299.5 C54.8,298 55.1,297 55.2,296" fill="none" stroke="#999" stroke-width="1" stroke-linecap="round"/>
</g></g>
<polyline points="442.6,272 442.6,373.5 406,373.5" fill="none" stroke="#000" stroke-width="4.8"/><polygon points="394.3,374.2 407.5,362 407.5,386.5" fill="#000"/><polyline points="487.4,272 487.4,373.5 524,373.5" fill="none" stroke="#000" stroke-width="4.8"/><polygon points="535.4,374.2 522.5,362 522.5,386.5" fill="#000"/><rect x="248.35" y="416.3" width="4.5" height="6.8" rx="0.6" fill="#000"/><rect x="248.35" y="426.6" width="4.5" height="5.2" rx="0.6" fill="#000"/><rect x="248.35" y="435.6" width="4.5" height="5.2" rx="0.6" fill="#000"/><rect x="248.35" y="443.7" width="4.5" height="7" rx="0.6" fill="#000"/><polygon points="239.7,449.5 261.5,449.5 250.6,460.8" fill="#000"/><rect x="661.85" y="416.3" width="4.5" height="6.8" rx="0.6" fill="#000"/><rect x="661.85" y="426.6" width="4.5" height="5.2" rx="0.6" fill="#000"/><rect x="661.85" y="435.6" width="4.5" height="5.2" rx="0.6" fill="#000"/><rect x="661.85" y="443.7" width="4.5" height="7" rx="0.6" fill="#000"/><polygon points="653.2,449.5 675.0,449.5 664.1,460.8" fill="#000"/><rect x="462.75" y="840.2" width="4.5" height="6.8" rx="0.6" fill="#000"/><rect x="462.75" y="850.5" width="4.5" height="5.2" rx="0.6" fill="#000"/><rect x="462.75" y="859.5" width="4.5" height="5.2" rx="0.6" fill="#000"/><rect x="462.75" y="867.6" width="4.5" height="7" rx="0.6" fill="#000"/><polygon points="453.2,873.7 476.8,873.7 465.0,885.0" fill="#000"/><polyline points="149.9,752 149.9,713.6 781.3,713.6 781.3,752" fill="none" stroke="#000" stroke-width="5.1"/><line x1="468" y1="689" x2="468" y2="752" stroke="#000" stroke-width="5.5"/><polygon points="137.0,749.8 162.8,749.8 149.9,762.5" fill="#000"/><polygon points="454.8,749.8 480.59999999999997,749.8 467.7,762.5" fill="#000"/><polygon points="768.3000000000001,749.8 794.1,749.8 781.2,762.5" fill="#000"/><rect x="338.55" y="208.15" width="238.90" height="64.00" rx="11.2" fill="#fff" stroke="#000" stroke-opacity="0.3" stroke-width="4.0"/><rect x="338.85" y="208.45" width="238.30" height="63.40" rx="11" fill="#fff" stroke="#0a0a0a" stroke-width="2.7"/>
<rect x="145.45" y="344.75" width="239.00" height="63.60" rx="11.2" fill="#fff" stroke="#000" stroke-opacity="0.3" stroke-width="4.0"/><rect x="145.75" y="345.05" width="238.40" height="63.00" rx="11" fill="#fff" stroke="#0a0a0a" stroke-width="2.7"/>
<rect x="544.75" y="344.75" width="238.50" height="63.60" rx="11.2" fill="#fff" stroke="#000" stroke-opacity="0.3" stroke-width="4.0"/><rect x="545.05" y="345.05" width="237.90" height="63.00" rx="11" fill="#fff" stroke="#0a0a0a" stroke-width="2.7"/>
<rect x="145.45" y="466.75" width="239.00" height="62.40" rx="11.2" fill="#fff" stroke="#000" stroke-opacity="0.3" stroke-width="4.0"/><rect x="145.75" y="467.05" width="238.40" height="61.80" rx="11" fill="#fff" stroke="#0a0a0a" stroke-width="2.7"/>
<rect x="544.75" y="466.75" width="238.50" height="62.40" rx="11.2" fill="#fff" stroke="#000" stroke-opacity="0.3" stroke-width="4.0"/><rect x="545.05" y="467.05" width="237.90" height="61.80" rx="11" fill="#fff" stroke="#0a0a0a" stroke-width="2.7"/>
<rect x="350.15" y="628.15" width="236.80" height="63.10" rx="11.2" fill="#fff" stroke="#000" stroke-opacity="0.3" stroke-width="4.0"/><rect x="350.45" y="628.45" width="236.20" height="62.50" rx="11" fill="#fff" stroke="#0a0a0a" stroke-width="2.7"/>
<rect x="49.25" y="766.25" width="237.20" height="62.90" rx="11.2" fill="#fff" stroke="#000" stroke-opacity="0.3" stroke-width="4.0"/><rect x="49.55" y="766.55" width="236.60" height="62.30" rx="11" fill="#fff" stroke="#0a0a0a" stroke-width="2.7"/>
<rect x="350.35" y="766.25" width="236.60" height="62.90" rx="11.2" fill="#fff" stroke="#000" stroke-opacity="0.3" stroke-width="4.0"/><rect x="350.65" y="766.55" width="236.00" height="62.30" rx="11" fill="#fff" stroke="#0a0a0a" stroke-width="2.7"/>
<rect x="651.45" y="766.25" width="237.50" height="62.90" rx="11.2" fill="#fff" stroke="#000" stroke-opacity="0.3" stroke-width="4.0"/><rect x="651.75" y="766.55" width="236.90" height="62.30" rx="11" fill="#fff" stroke="#0a0a0a" stroke-width="2.7"/>
<rect x="350.15" y="891.85" width="236.80" height="63.10" rx="11.2" fill="#fff" stroke="#000" stroke-opacity="0.3" stroke-width="4.0"/><rect x="350.45" y="892.15" width="236.20" height="62.50" rx="11" fill="#fff" stroke="#0a0a0a" stroke-width="2.7"/>
</svg>

<div class="t big" style="left:348.1px;top:222.08px">Not Received</div>
<div class="t n" style="left:173.7px;top:363.16px">On The Way</div>
<div class="t n" style="left:570.5px;top:346.96px">Please be</div>
<div class="t n" style="left:570.5px;top:377.06px">Patient for it</div>
<div class="t n" style="left:166.7px;top:482.46px">Returned /Lost</div>
<div class="t n" style="left:561.1px;top:482.26px">Resend/Refund</div>
<div class="t big" style="left:390.9px;top:641.78px">Received</div>
<div class="t n" style="left:52.85px;top:784.26px">Broken/Defective</div>
<div class="t n" style="left:388.9px;top:782.26px">Wrong items</div>
<div class="t n" style="left:716.1px;top:781.76px">Shortage</div>
<div class="t n" style="left:396.3px;top:911.06px">Contact us</div>


<div class="logo" style="left:53.3px;top:40.1px">Return</div>
<div class="logo" style="left:76.6px;top:63.5px;font-size:19.6px">&amp;</div>
<div class="logo" style="left:53.3px;top:90.1px">Refund</div>

</body></html>
